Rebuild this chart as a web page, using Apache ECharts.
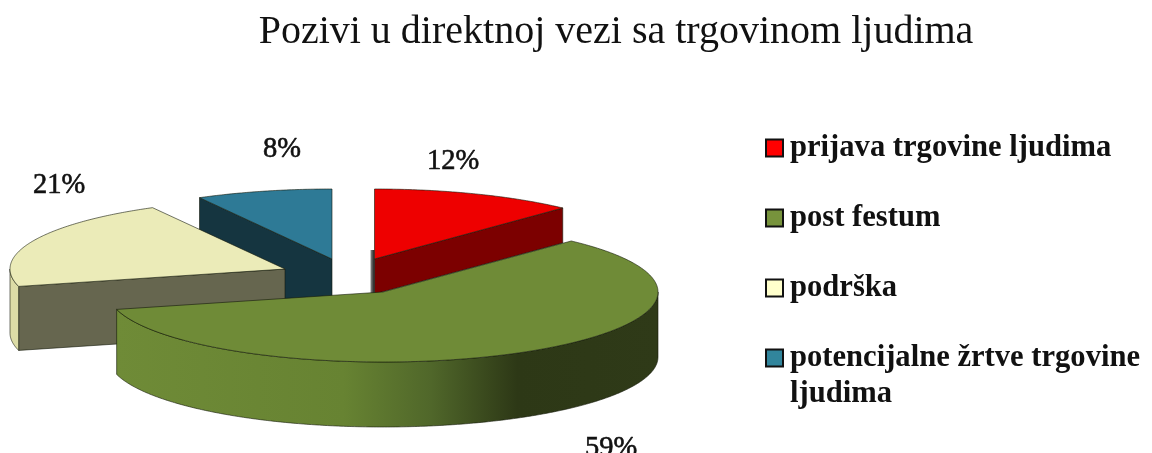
<!DOCTYPE html>
<html><head><meta charset="utf-8">
<style>html,body{margin:0;padding:0;background:#fff}#c{width:1152px;height:453px}</style>
<script src="https://cdn.jsdelivr.net/npm/echarts@6/dist/echarts.min.js"></script>
</head><body><div id="c"></div>
<script>
const titleText = 'Pozivi u direktnoj vezi sa trgovinom ljudima';
const categories = ['prijava trgovine ljudima', 'post festum', 'podrška', 'potencijalne žrtve trgovine\nljudima'];
const values = [12, 59, 21, 8];
const legendColors = ['#FF0000', '#77933C', '#FFFFCC', '#31859C'];
const topColors = ['#EE0000', '#6F8B37', '#EBEBB8', '#2E7A96'];
const wallColors = ['#7C0000', '#6F8B37', '#66664F', '#153540'];
const rimColors = ['#7C0000', '#6F8B37', '#DCDCA6', '#153540'];
// layout only
const C = {x: 352, y: 276, rx: 275, ry: 70};
const explode = [[22.5, -17], [31, 16], [-67, -7], [-20, -17]];
const depths = [35, 65, 64, 64];
const zOrder = [2, 4, 3, 1];
const labelPos = [[453, 162], [611, 449], [59, 186], [282, 150]];
const total = values.reduce((a, b) => a + b, 0);
const FONT = '"Liberation Serif", serif';

function makeRender(idx) {
  return function (params, api) {
    const v = api.value(0);
    const before = values.slice(0, idx).reduce((a, b) => a + b, 0);
    const a0 = before / total * 2 * Math.PI, a1 = (before + v) / total * 2 * Math.PI;
    const ax = C.x + explode[idx][0], ay = C.y + explode[idx][1];
    const rim = t => [ax + C.rx * Math.sin(t), ay - C.ry * Math.cos(t)];
    const down = p => [p[0], p[1] + depths[idx]];
    const arc = (s, e) => {
      const n = Math.max(2, Math.ceil(Math.abs(e - s) / 0.01)), out = [];
      for (let i = 0; i <= n; i++) out.push(rim(s + (e - s) * i / n));
      return out;
    };
    const line = {stroke: 'rgba(20,25,10,0.75)', lineWidth: 0.8};
    const kids = [];
    const poly = (pts, fill) => kids.push({type: 'polygon', shape: {points: pts}, style: Object.assign({fill}, line)});
    const apex = [ax, ay];
    // radial faces
    [[a0, Math.sin(a0) < -1e-6], [a1, Math.sin(a1) > 1e-6]].forEach(([t, vis]) => {
      if (!vis) return;
      const p = rim(t);
      poly([apex, p, down(p), down(apex)], wallColors[idx]);
    });
    // outer wall: lower half of the rim only
    const s = Math.max(a0, Math.PI / 2), e = Math.min(a1, 3 * Math.PI / 2);
    if (e > s) {
      const top = arc(s, e);
      const fill = idx === 1 ? new echarts.graphic.LinearGradient(0, 0, 1, 0, [
        {offset: 0, color: '#6F8B37'}, {offset: 0.42, color: '#678332'},
        {offset: 0.58, color: '#50672A'}, {offset: 0.74, color: '#2D3816'},
        {offset: 1, color: '#2F3A18'}
      ]) : rimColors[idx];
      poly(top.concat(top.slice().reverse().map(down)), fill);
    }
    if (idx === 0) {
      kids.push({type: 'rect', shape: {x: ax - 4, y: ay - 9, width: 4, height: 43},
        style: {fill: new echarts.graphic.LinearGradient(0, 0, 1, 0, [
          {offset: 0, color: '#8a8a8a'}, {offset: 1, color: '#1a1a1a'}])}});
    }
    // top surface
    poly([apex].concat(arc(a0, a1)), topColors[idx]);
    kids.push({type: 'text', style: {
      text: Math.round(v / total * 100) + '%', x: labelPos[idx][0], y: labelPos[idx][1],
      align: 'center', verticalAlign: 'middle', fill: '#111',
      font: '28.5px ' + FONT, stroke: '#111', lineWidth: 0.6}});
    return {type: 'group', children: kids};
  };
}

const legendBase = {
  orient: 'vertical', left: 765, padding: 0, itemWidth: 17, itemHeight: 17, itemGap: 34,
  selectedMode: false, icon: 'rect',
  itemStyle: {borderColor: '#111', borderWidth: 2},
  textStyle: {fontFamily: FONT, fontWeight: 'bold', fontSize: 30.6, color: '#111', lineHeight: 36, padding: [0, 0, 0, 2]}
};
const option = {
  backgroundColor: '#fff', animation: false,
  title: {text: titleText, left: 611, top: 7, textAlign: 'center',
    textStyle: {fontFamily: FONT, fontWeight: 'normal', fontSize: 40, color: '#111'}},
  legend: [
    Object.assign({}, legendBase, {top: 130, data: categories.slice(0, 3).map((n, i) => ({name: n, itemStyle: {color: legendColors[i]}}))}),
    Object.assign({}, legendBase, {top: 304, formatter: n => '\n' + n,
      data: [{name: categories[3], itemStyle: {color: legendColors[3]}}]})
  ],
  series: categories.map((name, i) => ({
    type: 'custom', name, coordinateSystem: 'none', z: zOrder[i], silent: true,
    itemStyle: {color: legendColors[i]},
    renderItem: makeRender(i), data: [[values[i]]]
  }))
};
echarts.init(document.getElementById('c'), null, {renderer: 'canvas'}).setOption(option);
</script></body></html>
